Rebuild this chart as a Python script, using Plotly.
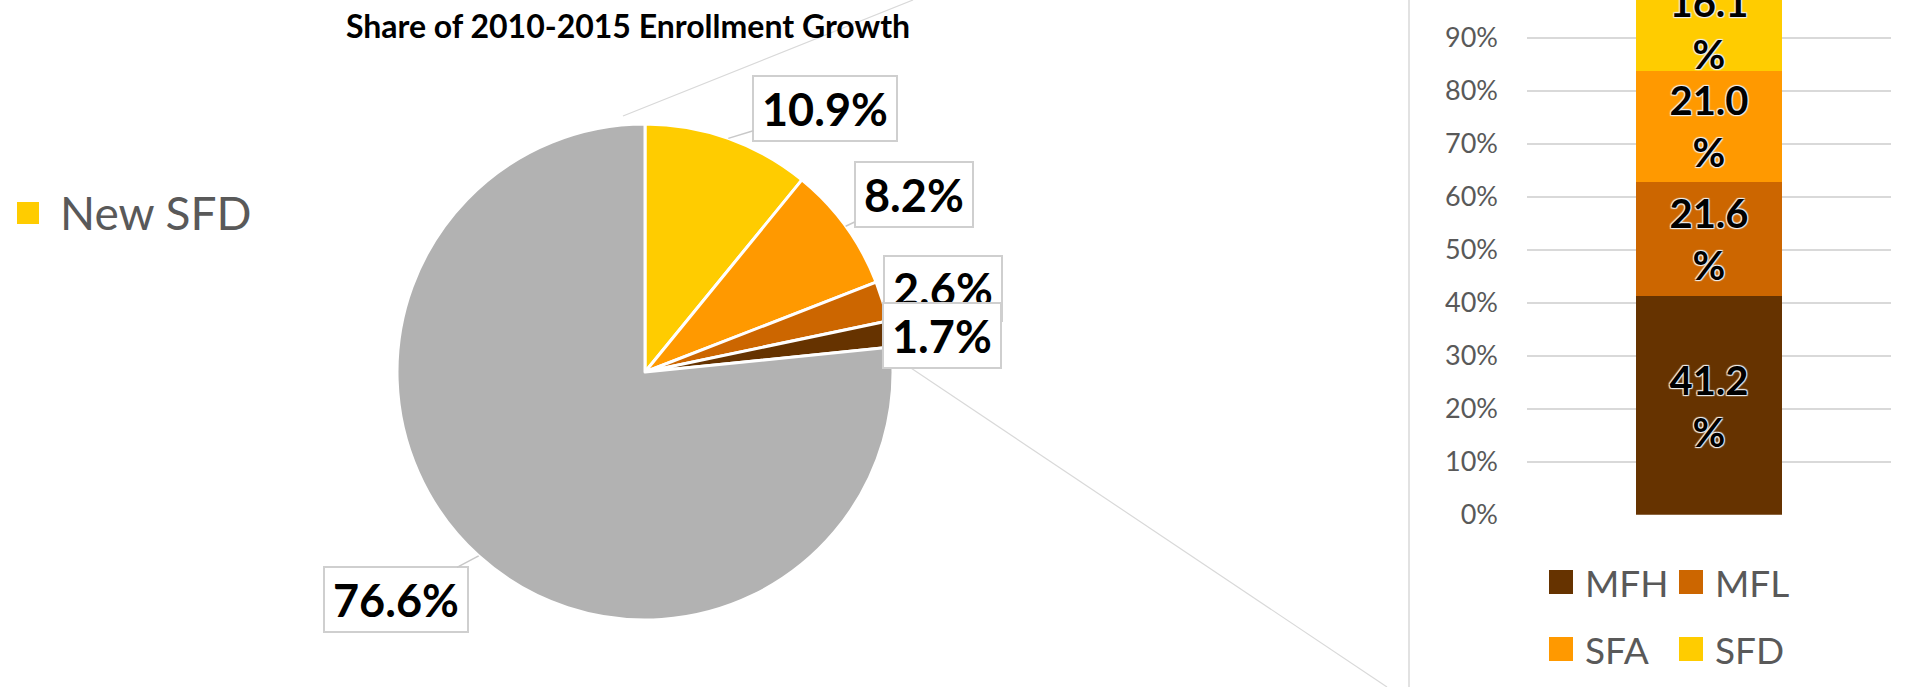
"""Share of 2010-2015 enrollment growth: pie with a stacked breakdown bar."""

import numpy as np
import plotly.graph_objects as go

# ---- data -----------------------------------------------------------------
pie_labels = ["New SFD", "New SFA", "New MFL", "New MFH", "Existing"]
pie_values = [10.9, 8.2, 2.6, 1.7, 76.6]
pie_colors = ["#FFCC00", "#FF9900", "#CC6600", "#663300", "#B2B2B2"]

bar_series = ["MFH", "MFL", "SFA", "SFD"]
bar_values = [41.2, 21.6, 21.0, 16.1]
bar_colors = ["#663300", "#CC6600", "#FF9900", "#FFCC00"]

y_ticks = [0, 10, 20, 30, 40, 50, 60, 70, 80, 90]
y_tick_labels = [f"{t}%" for t in y_ticks]

TITLE = "Share of 2010-2015 Enrollment Growth"

# ---- layout constants (pixels, origin top-left) -------------------------
W, H = 1908, 687
FONT = "Lato, 'Open Sans', sans-serif"
GREY_TXT = "#595959"
LINE_GREY = "#D9D9D9"

PIE_CX, PIE_CY, PIE_R = 645, 372, 248
BAR_X0, BAR_X1 = 1527, 1891
BAR_Y0_PX = 514.7          # pixel row of 0%
PX_PER_PCT = 5.30


def px(x):
    return x / W


def py(y):
    return 1 - y / H


fig = go.Figure()

# pie
fig.add_trace(go.Pie(
    labels=pie_labels,
    values=pie_values,
    sort=False,
    direction="clockwise",
    rotation=0,
    marker=dict(colors=pie_colors, line=dict(color="white", width=3)),
    textinfo="none",
    hoverinfo="label+percent",
    showlegend=False,
    domain=dict(x=[px(PIE_CX - PIE_R), px(PIE_CX + PIE_R)],
                y=[py(PIE_CY + PIE_R), py(PIE_CY - PIE_R)]),
))

# stacked bar
for name, val, col in zip(bar_series, bar_values, bar_colors):
    fig.add_trace(go.Bar(
        x=["Growth"], y=[val], name=name,
        marker=dict(color=col, line=dict(width=0)),
        text=[f"{val:.1f}<br>%"],
        textposition="inside",
        insidetextanchor="middle",
        textangle=0,
        constraintext="none",
        textfont=dict(family=FONT, size=40, color="black", weight="bold",
                      shadow="1px 1px 1px #eee, -1px -1px 1px #eee, 1px -1px 1px #eee, -1px 1px 1px #eee"),
        showlegend=False,
    ))

# pie value callouts, anchored on the slice mid-angle
mids = (np.cumsum(pie_values) - np.array(pie_values) / 2) / sum(pie_values)
box_offsets = [(97, -30), (68, -32), (60, -13), (52, 2), (-83, 44)]
annotations = []
for v, f, (ox, oy) in zip(pie_values, mids, box_offsets):
    th = 2 * np.pi * f
    ax_px = PIE_CX + PIE_R * np.sin(th)
    ay_px = PIE_CY - PIE_R * np.cos(th)
    annotations.append(dict(
        x=px(ax_px), y=py(ay_px), xref="paper", yref="paper",
        text=f"{v:.1f}%", showarrow=True, ax=ox, ay=oy,
        arrowhead=0, arrowwidth=1.5, arrowcolor="#C8C8C8", standoff=0,
        bgcolor="white", bordercolor="#CFCFCF", borderwidth=2, borderpad=8,
        height=47,
        font=dict(family=FONT, size=45, color="black", weight="bold"),
    ))

# pie legend (single visible entry)
shapes = [
    dict(type="rect", xref="paper", yref="paper",
         x0=px(17), x1=px(39), y0=py(224), y1=py(202),
         fillcolor=pie_colors[0], line=dict(width=0)),
]
annotations.append(dict(
    x=px(58), y=py(213), xref="paper", yref="paper", xanchor="left", yanchor="middle",
    text=pie_labels[0], showarrow=False,
    font=dict(family=FONT, size=46, color=GREY_TXT),
))

# bar legend, two entries per row
for i, (name, col) in enumerate(zip(bar_series, bar_colors)):
    cx0 = 1549 + 130 * (i % 2)
    cy = 582 + 67 * (i // 2)
    shapes.append(dict(type="rect", xref="paper", yref="paper",
                       x0=px(cx0), x1=px(cx0 + 24), y0=py(cy + 12), y1=py(cy - 12),
                       fillcolor=col, line=dict(width=0)))
    annotations.append(dict(
        x=px(cx0 + 34), y=py(cy), xref="paper", yref="paper",
        xanchor="left", yanchor="middle", text=name, showarrow=False,
        font=dict(family=FONT, size=37, color=GREY_TXT),
    ))

# connector lines and the chart border
shapes += [
    dict(type="line", xref="paper", yref="paper", layer="below",
         x0=px(623), y0=py(116), x1=px(913), y1=py(0),
         line=dict(color=LINE_GREY, width=1.2)),
    dict(type="line", xref="paper", yref="paper", layer="below",
         x0=px(890), y0=py(354), x1=px(1387), y1=py(687),
         line=dict(color=LINE_GREY, width=1.2)),
    dict(type="line", xref="paper", yref="paper",
         x0=px(1409), y0=0, x1=px(1409), y1=1,
         line=dict(color=LINE_GREY, width=1.5)),
]

fig.update_layout(
    width=W, height=H,
    margin=dict(l=0, r=0, t=0, b=0, autoexpand=False),
    paper_bgcolor="white", plot_bgcolor="white",
    barmode="stack", bargap=0.6,
    showlegend=False,
    title=dict(text=TITLE, x=px(628), y=py(27), xanchor="center", yanchor="middle",
               font=dict(family=FONT, size=32, color="black", weight="bold")),
    xaxis=dict(domain=[px(BAR_X0), px(BAR_X1)], showticklabels=False, automargin=False,
               showgrid=False, zeroline=False, showline=False, fixedrange=True),
    yaxis=dict(domain=[py(BAR_Y0_PX), 1], range=[0, BAR_Y0_PX / PX_PER_PCT],
               tickmode="array", tickvals=y_ticks, ticktext=y_tick_labels,
               ticks="", ticklabelstandoff=28, automargin=False,
               tickfont=dict(family=FONT, size=27, color=GREY_TXT),
               showgrid=True, gridcolor=LINE_GREY, gridwidth=1.5,
               zeroline=False, showline=False),
    annotations=annotations,
    shapes=shapes,
    font=dict(family=FONT),
)

# the page's default body margin would shift the figure by 8px
fig.write_html("out.html", config={"displayModeBar": False},
               post_script="document.body.style.margin = '0';")
